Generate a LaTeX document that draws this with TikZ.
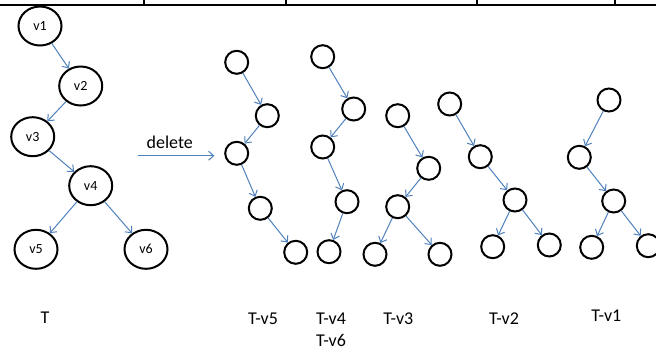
\documentclass[tikz,border=0pt]{standalone}
\usepackage{fontspec}
\setmainfont{Carlito}
\usetikzlibrary{arrows.meta,shapes.geometric}
\definecolor{edgeblue}{RGB}{79,129,189}
\tikzset{
  big/.style={ellipse, draw=black, line width=2pt, minimum width=43pt, minimum height=39pt, inner sep=0pt, font=\fontsize{14}{16}\selectfont},
  small/.style={circle, draw=black, line width=2pt, minimum size=23pt, inner sep=0pt},
  edge/.style={draw=edgeblue, line width=1pt, -{Straight Barb[length=5pt,width=9pt]}},
  lbl/.style={font=\fontsize{18}{20}\selectfont, inner sep=0pt},
  rule/.style={line width=2pt}
}
\begin{document}
\begin{tikzpicture}[x=1pt,y=-1pt]
\clip (0,0) rectangle (656,351);
\fill[white] (0,0) rectangle (656,351);
% top rule
\coordinate (r0) at (0,4.5);
\coordinate (r1) at (656,4.5);
\draw[rule] (r0) -- (r1);
\foreach \tx in {144,285.5,476.7,615}{\draw[rule] (\tx,0) -- (\tx,4.5);}
% tree T
\node[big] (v1) at (40,26) {v1};
\node[big] (v2) at (80.7,86) {v2};
\node[big] (v3) at (32.7,136.7) {v3};
\node[big] (v4) at (90.7,185.7) {v4};
\node[big] (v5) at (36,249.3) {v5};
\node[big] (v6) at (146,249.3) {v6};
\draw[edge] (v1) -- (v2);
\draw[edge] (v2) -- (v3);
\draw[edge] (v3) -- (v4);
\draw[edge] (v4) -- (v5);
\draw[edge] (v4) -- (v6);
% delete arrow
\coordinate (da) at (138.3,155.7);
\coordinate (db) at (214.3,155.7);
\draw[edge] (da) -- (db);
\node[lbl] (del) at (169.7,142) {delete};
% T-v5
\node[small] (a1) at (236.7,62.3) {};
\node[small] (a2) at (267.3,115.7) {};
\node[small] (a3) at (236.7,153.3) {};
\node[small] (a4) at (260.3,208.3) {};
\node[small] (a5) at (295.7,252.3) {};
\draw[edge] (a1) -- (a2);
\draw[edge] (a2) -- (a3);
\draw[edge] (a3) -- (a4);
\draw[edge] (a4) -- (a5);
% T-v4
\node[small] (b1) at (322.7,56.7) {};
\node[small] (b2) at (353.7,109) {};
\node[small] (b3) at (322.7,147) {};
\node[small] (b4) at (347,201.7) {};
\node[small] (b5) at (329,251.7) {};
\draw[edge] (b1) -- (b2);
\draw[edge] (b2) -- (b3);
\draw[edge] (b3) -- (b4);
\draw[edge] (b4) -- (b5);
% T-v3
\node[small] (c1) at (397.7,115.7) {};
\node[small] (c2) at (428.7,168.3) {};
\node[small] (c3) at (397.7,206.7) {};
\node[small] (c4) at (375,254.3) {};
\node[small] (c5) at (440,254.3) {};
\draw[edge] (c1) -- (c2);
\draw[edge] (c2) -- (c3);
\draw[edge] (c3) -- (c4);
\draw[edge] (c3) -- (c5);
% T-v2
\node[small] (d1) at (449.7,104) {};
\node[small] (d2) at (480.3,156.7) {};
\node[small] (d3) at (515,200) {};
\node[small] (d4) at (492.7,246.7) {};
\node[small] (d5) at (549.3,245) {};
\draw[edge] (d1) -- (d2);
\draw[edge] (d2) -- (d3);
\draw[edge] (d3) -- (d4);
\draw[edge] (d3) -- (d5);
% T-v1
\node[small] (e1) at (609,100) {};
\node[small] (e2) at (579.3,157.3) {};
\node[small] (e3) at (613.7,201) {};
\node[small] (e4) at (591.7,247.3) {};
\node[small] (e5) at (648.3,245.7) {};
\draw[edge] (e1) -- (e2);
\draw[edge] (e2) -- (e3);
\draw[edge] (e3) -- (e4);
\draw[edge] (e3) -- (e5);
% labels
\node[lbl] (lT) at (45,318) {T};
\node[lbl] (l5) at (263,318.3) {T-v5};
\node[lbl] (l4) at (331,319) {T-v4};
\node[lbl] (l6) at (331,340.7) {T-v6};
\node[lbl] (l3) at (398.3,319) {T-v3};
\node[lbl] (l2) at (504,319) {T-v2};
\node[lbl] (l1) at (606.3,316) {T-v1};
\end{tikzpicture}
\end{document}
